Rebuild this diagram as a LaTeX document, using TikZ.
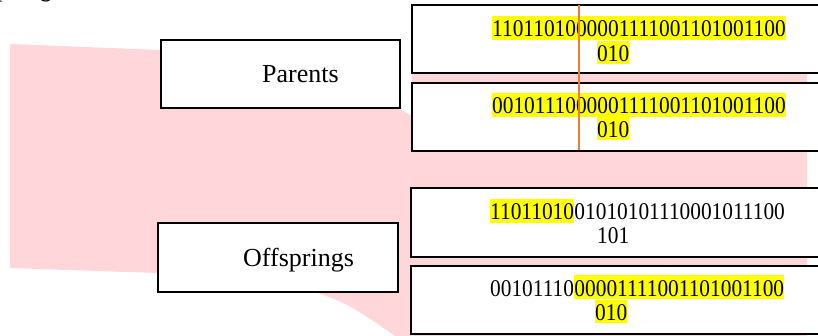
\documentclass[tikz,border=0pt]{standalone}
\usepackage{fontspec}
\setmainfont{Liberation Serif}
\newfontfamily\digitfont[FakeStretch=0.89]{Liberation Serif}
\definecolor{bandpink}{RGB}{255,214,218}
\definecolor{hlyellow}{RGB}{255,255,0}
\definecolor{cutorange}{RGB}{237,125,49}
\tikzset{
  bitbox/.style={draw=black, line width=2pt, fill=white},
  labelbox/.style={draw=black, line width=2pt, fill=white},
  lbl/.style={anchor=base west, inner sep=0pt, font=\fontsize{26}{26}\selectfont},
  bits/.style={anchor=base west, inner sep=0pt, text height=20.5pt, text depth=3pt, font=\digitfont\fontsize{24}{24}\selectfont},
  hl/.style={bits, fill=hlyellow},
  cutline/.style={draw=cutorange, line width=2pt}
}
\begin{document}
\begin{tikzpicture}[x=1pt, y=-1pt]
\useasboundingbox (0,0) rectangle (818,336);
\clip (0,0) rectangle (818,336);
% background band
\fill[bandpink] (10,44) -- (160,50) .. controls (330,75) .. (405,112) -- (412,116)
  -- (412,60) -- (807,60) -- (807,336) -- (395,336)
  .. controls (350,305) .. (318,293) -- (158,273) -- (10,268) -- cycle;
% caption fragment
\node[anchor=base west, inner sep=0pt, font=\itshape\fontsize{26}{26}\selectfont] (cap) at (-2,-3) {pring};
% label boxes
\draw[labelbox] (161,40) rectangle (400,108);
\node[lbl] (parents) at (262,83) {Parents};
\draw[labelbox] (158,223) rectangle (398,292);
\node[lbl] (offs) at (243,267) {Offsprings};
% bit boxes
\draw[bitbox] (412,5) rectangle (830,73);
\draw[bitbox] (412,83) rectangle (830,151);
\draw[bitbox] (411,188) rectangle (830,257);
\draw[bitbox] (411,266) rectangle (830,334);
% parent 1
\node[hl] (p1a) at (492,37) {1101101000001111001101001100};
\node[hl] (p1b) at (597,61.5) {010};
% parent 2
\node[hl] (p2a) at (492,114) {0010111000001111001101001100};
\node[hl] (p2b) at (597,137.5) {010};
% offspring 1
\node[hl] (o1a) at (490,220) {11011010};
\node[bits] (o1b) at (o1a.base east) {01010101110001011100};
\node[bits] (o1c) at (597,244) {101};
% offspring 2
\node[bits] (o2a) at (490,296) {00101110};
\node[hl] (o2b) at (o2a.base east) {00001111001101001100};
\node[hl] (o2c) at (595,320) {010};
% crossover point
\coordinate (cuttop) at (579,5);
\coordinate (cutbot) at (579,150);
\draw[cutline] (cuttop) -- (cutbot);
\end{tikzpicture}
\end{document}
